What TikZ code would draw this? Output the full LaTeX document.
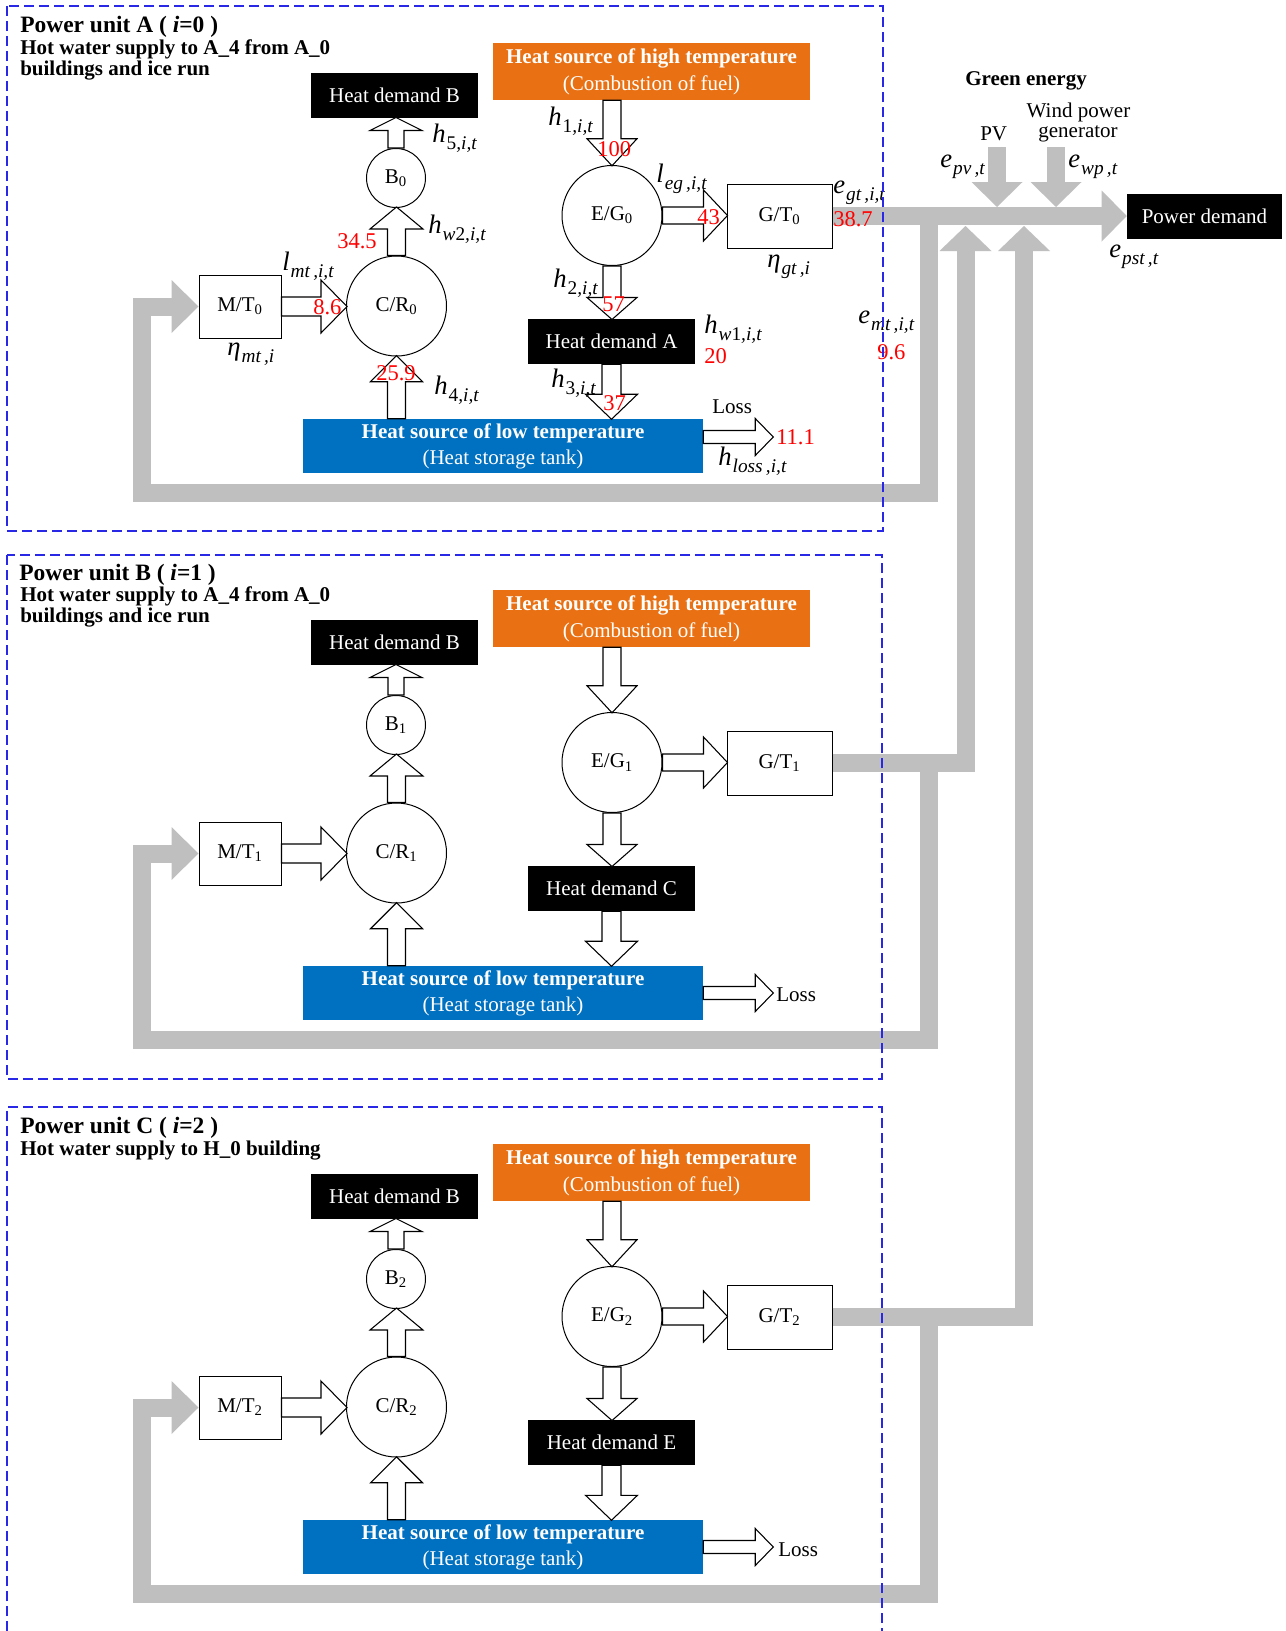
\documentclass[tikz,border=0pt]{standalone}
\usepackage{fontspec}
\setmainfont{Liberation Serif}
\usetikzlibrary{calc}
\definecolor{gbar}{RGB}{191,191,191}
\definecolor{orng}{RGB}{233,113,19}
\definecolor{blu}{RGB}{0,112,192}
\definecolor{dashc}{RGB}{40,40,230}
\definecolor{rd}{RGB}{255,0,0}
\def\pxu{0.75pt}
\newcommand\fntbox{\fontsize{15.75pt}{20.25pt}\selectfont}
\newcommand\fnttitle{\fontsize{17.6pt}{17.6pt}\selectfont\bfseries}
\newcommand\fntsub{\fontsize{15.75pt}{15.75pt}\selectfont\bfseries}
\newcommand\fntlab{\fontsize{20pt}{20pt}\selectfont}
\newcommand\fntnum{\fontsize{16.9pt}{16.9pt}\selectfont}
\newcommand\ml[2]{\textit{#1}\kern0.8pt\raisebox{-5.5pt}{\fontsize{14.5pt}{14.5pt}\selectfont\textit{#2}}}
\newcommand\barrow[6]{\begin{scope}[shift={#1},rotate=#2]
  \draw[blk] (0,-#5) -- (#3-#4,-#5) -- (#3-#4,-#6) -- (#3,0) -- (#3-#4,#6) -- (#3-#4,#5) -- (0,#5) -- cycle;
  \end{scope}}
\newcommand\ghead[4]{\begin{scope}[shift={#1},rotate=#2]
  \fill[gbar] (0,0) -- (-#3,#4) -- (-#3,-#4) -- cycle;
  \end{scope}}
\tikzset{
  blk/.style={draw=black,fill=white,line width=0.8pt,line join=miter},
  circ/.style={circle,draw=black,fill=white,line width=0.75pt,inner sep=0pt,font=\fntbox},
  rbox/.style={rectangle,draw=black,fill=white,line width=0.75pt,inner sep=0pt,font=\fntbox},
  hdbox/.style={rectangle,fill=black,text=white,inner sep=0pt,minimum width=167*\pxu,minimum height=45*\pxu,font=\fntbox},
  hibox/.style={rectangle,fill=orng,text=white,inner sep=0pt,minimum width=317*\pxu,minimum height=57*\pxu,align=center,font=\fntbox},
  lobox/.style={rectangle,fill=blu,text=white,inner sep=0pt,minimum width=400*\pxu,minimum height=54*\pxu,align=center,font=\fontsize{15.75pt}{19.5pt}\selectfont},
  gline/.style={draw=gbar,line width=13.5pt,line join=miter,line cap=butt},
  dashbox/.style={draw=dashc,line width=0.9pt,dash pattern=on 7.5pt off 3.75pt},
  lab/.style={anchor=base west,inner sep=0pt,font=\fntlab},
  num/.style={anchor=base west,inner sep=0pt,text=rd,font=\fntnum},
  txt/.style={anchor=base west,inner sep=0pt,font=\fntbox},
  ttl/.style={anchor=base west,inner sep=0pt,font=\fnttitle},
  stl/.style={anchor=base west,inner sep=0pt,font=\fntsub},
}
% #1 y offset, #2 index, #3 lower demand letter
\newcommand\unitbody[3]{%
  \node[hdbox] (hdb#2) at (394.5,95.5+#1) {Heat demand B};
  \node[circ,minimum size=59*\pxu] (b#2) at (396,178+#1) {B\textsubscript{#2}};
  \node[circ,minimum size=100*\pxu] (cr#2) at (396.5,306+#1) {C/R\textsubscript{#2}};
  \node[rbox,minimum width=82*\pxu,minimum height=63*\pxu] (mt#2) at (240,306.5+#1) {M/T\textsubscript{#2}};
  \node[hibox] (hi#2) at (651.5,71.5+#1) {\textbf{Heat source of high temperature}\\(Combustion of fuel)};
  \node[circ,minimum size=100*\pxu] (eg#2) at (612,215.5+#1) {E/G\textsubscript{#2}};
  \node[rbox,minimum width=105*\pxu,minimum height=64*\pxu] (gt#2) at (779.5,216+#1) {G/T\textsubscript{#2}};
  \node[hdbox] (hdl#2) at (611.5,341.5+#1) {Heat demand #3};
  \node[lobox] (lo#2) at (503,446+#1) {\textbf{Heat source of low temperature}\\(Heat storage tank)};
  \barrow{(b#2.north)}{90}{30.5}{13}{8}{26}
  \barrow{(cr#2.north)}{90}{48.5}{22}{9}{26.5}
  \barrow{(mt#2.east)}{0}{65.5}{26}{9.5}{26.5}
  \barrow{(cr#2.south |- lo#2.north)}{90}{63}{26}{9}{26}
  \barrow{(eg#2.north |- hi#2.south)}{-90}{65.5}{27}{9}{25}
  \barrow{(eg#2.east)}{0}{65}{24}{8.5}{25.5}
  \barrow{(eg#2.south)}{-90}{53.5}{22}{9}{25}
  \barrow{(hdl#2.south)}{-90}{55}{25}{9.5}{26}
}
\begin{document}
\begin{tikzpicture}[x=0.75pt,y=-0.75pt]
\useasboundingbox (0,0) rectangle (1285,1631);
\fill[white] (0,0) rectangle (1285,1631);

% ---------- units ----------
\unitbody{0}{0}{A}
\unitbody{547}{1}{C}
\unitbody{1101}{2}{E}

% loss arrows
\barrow{($(lo0.east)+(0,-9)$)}{0}{70}{18}{6.5}{18.5}
\barrow{(lo1.east)}{0}{70}{18}{6.5}{18.5}
\barrow{(lo2.east)}{0}{70}{18}{6.5}{18.5}
\node[txt] (loss0) at (712,413) {Loss};
\node[txt] (loss1) at (776,1001) {Loss};
\node[txt] (loss2) at (778,1556) {Loss};

% titles
\node[ttl] (ta) at (20,32) {Power unit A ( \textit{i}=0 )};
\node[stl] (sa1) at (20,54) {Hot water supply to A\_4 from A\_0};
\node[stl] (sa2) at (20,75) {buildings and ice run};
\node[ttl] (tb) at (19,580) {Power unit B ( \textit{i}=1 )};
\node[stl] (sb1) at (20,601) {Hot water supply to A\_4 from A\_0};
\node[stl] (sb2) at (20,622) {buildings and ice run};
\node[ttl] (tc) at (20,1133) {Power unit C ( \textit{i}=2 )};
\node[stl] (sc1) at (20,1155) {Hot water supply to H\_0 building};

% ---------- power demand & green energy ----------
\node[rectangle,fill=black,text=white,inner sep=0pt,minimum width=155*\pxu,minimum height=45*\pxu,font=\fntbox] (pd) at (1204.5,216) {Power demand};
\node[anchor=base west,inner sep=0pt,font=\fntsub] (ge) at (965,85) {Green energy};
\node[txt] (pv) at (980,140) {PV};
\node[anchor=base,inner sep=0pt,font=\fntbox] (wp1) at (1078.5,117) {Wind power};
\node[anchor=base,inner sep=0pt,font=\fntbox] (wp2) at (1078,137) {generator};

% ---------- gray power lines ----------
\coordinate (busend) at ($(pd.west)+(-25,0)$);
\draw[gline] (gt0.east) -- (busend);
\ghead{(pd.west)}{0}{25}{25.5}
% PV and wind
\draw[gline] (997,147) -- (997,182);
\ghead{(997,207)}{-90}{25}{25.5}
\draw[gline] (1056,147) -- (1056,182);
\ghead{(1056,207)}{-90}{25}{25.5}
% unit A loop
\draw[gline] (928.5,216) -- (928.5,493) -- (142,493) -- (142,306.5) -- ($(mt0.west)+(-27,0)$);
\ghead{(mt0.west)}{0}{27}{26.5}
% unit B
\draw[gline] (gt1.east) -- (965.5,763) -- (965.5,251);
\ghead{(965.5,226)}{90}{25}{26}
\draw[gline] (928.5,763) -- (928.5,1040) -- (142,1040) -- (142,853.5) -- ($(mt1.west)+(-27,0)$);
\ghead{(mt1.west)}{0}{27}{26.5}
% unit C
\draw[gline] (gt2.east) -- (1024,1317) -- (1024,251);
\ghead{(1024,226)}{90}{25}{26}
\draw[gline] (928.5,1317) -- (928.5,1594) -- (142,1594) -- (142,1407.5) -- ($(mt2.west)+(-27,0)$);
\ghead{(mt2.west)}{0}{27}{26.5}

% ---------- labels (unit A) ----------
\node[lab] at (548,125) {\ml{h}{\textup{1},i,t}};
\node[lab] at (553,287) {\ml{h}{\textup{2},i,t}};
\node[lab] at (551,387) {\ml{h}{\textup{3},i,t}};
\node[lab] at (434,394) {\ml{h}{\textup{4},i,t}};
\node[lab] at (432,142) {\ml{h}{\textup{5},i,t}};
\node[lab] at (428,233) {\ml{h}{w\textup{2},i,t}};
\node[lab] at (704,333) {\ml{h}{w\textup{1},i,t}};
\node[lab] at (282,270) {\ml{l}{mt\,,i,t}};
\node[lab] at (656,182) {\ml{l}{eg\,,i,t}};
\node[lab] at (227,355) {\ml{η}{mt\,,i}};
\node[lab] at (767,267) {\ml{η}{gt\,,i}};
\node[lab] at (833,193) {\ml{e}{gt\,,i,t}};
\node[lab] at (858,323) {\ml{e}{mt\,,i,t}};
\node[lab] at (718,465) {\ml{h}{loss\,,i,t}};
\node[lab] at (940,167) {\ml{e}{pv\,,t}};
\node[lab] at (1068,167) {\ml{e}{wp\,,t}};
\node[lab] at (1109,257) {\ml{e}{pst\,,t}};

% red values
\node[num] at (597,156) {100};
\node[num] at (697,224) {43};
\node[num] at (833,226) {38.7};
\node[num] at (602,311) {57};
\node[num] at (704,363) {20};
\node[num] at (603,410) {37};
\node[num] at (776,444) {11.1};
\node[num] at (877,359) {9.6};
\node[num] at (337,248) {34.5};
\node[num] at (313,314) {8.6};
\node[num] at (376,380) {25.9};

% ---------- dashed unit frames ----------
\draw[dashbox] (7,6) rectangle (883,531);
\draw[dashbox] (7,555) rectangle (882,1079);
\draw[dashbox] (7,1631) -- (7,1107) -- (882,1107) -- (882,1631);
\end{tikzpicture}
\end{document}
